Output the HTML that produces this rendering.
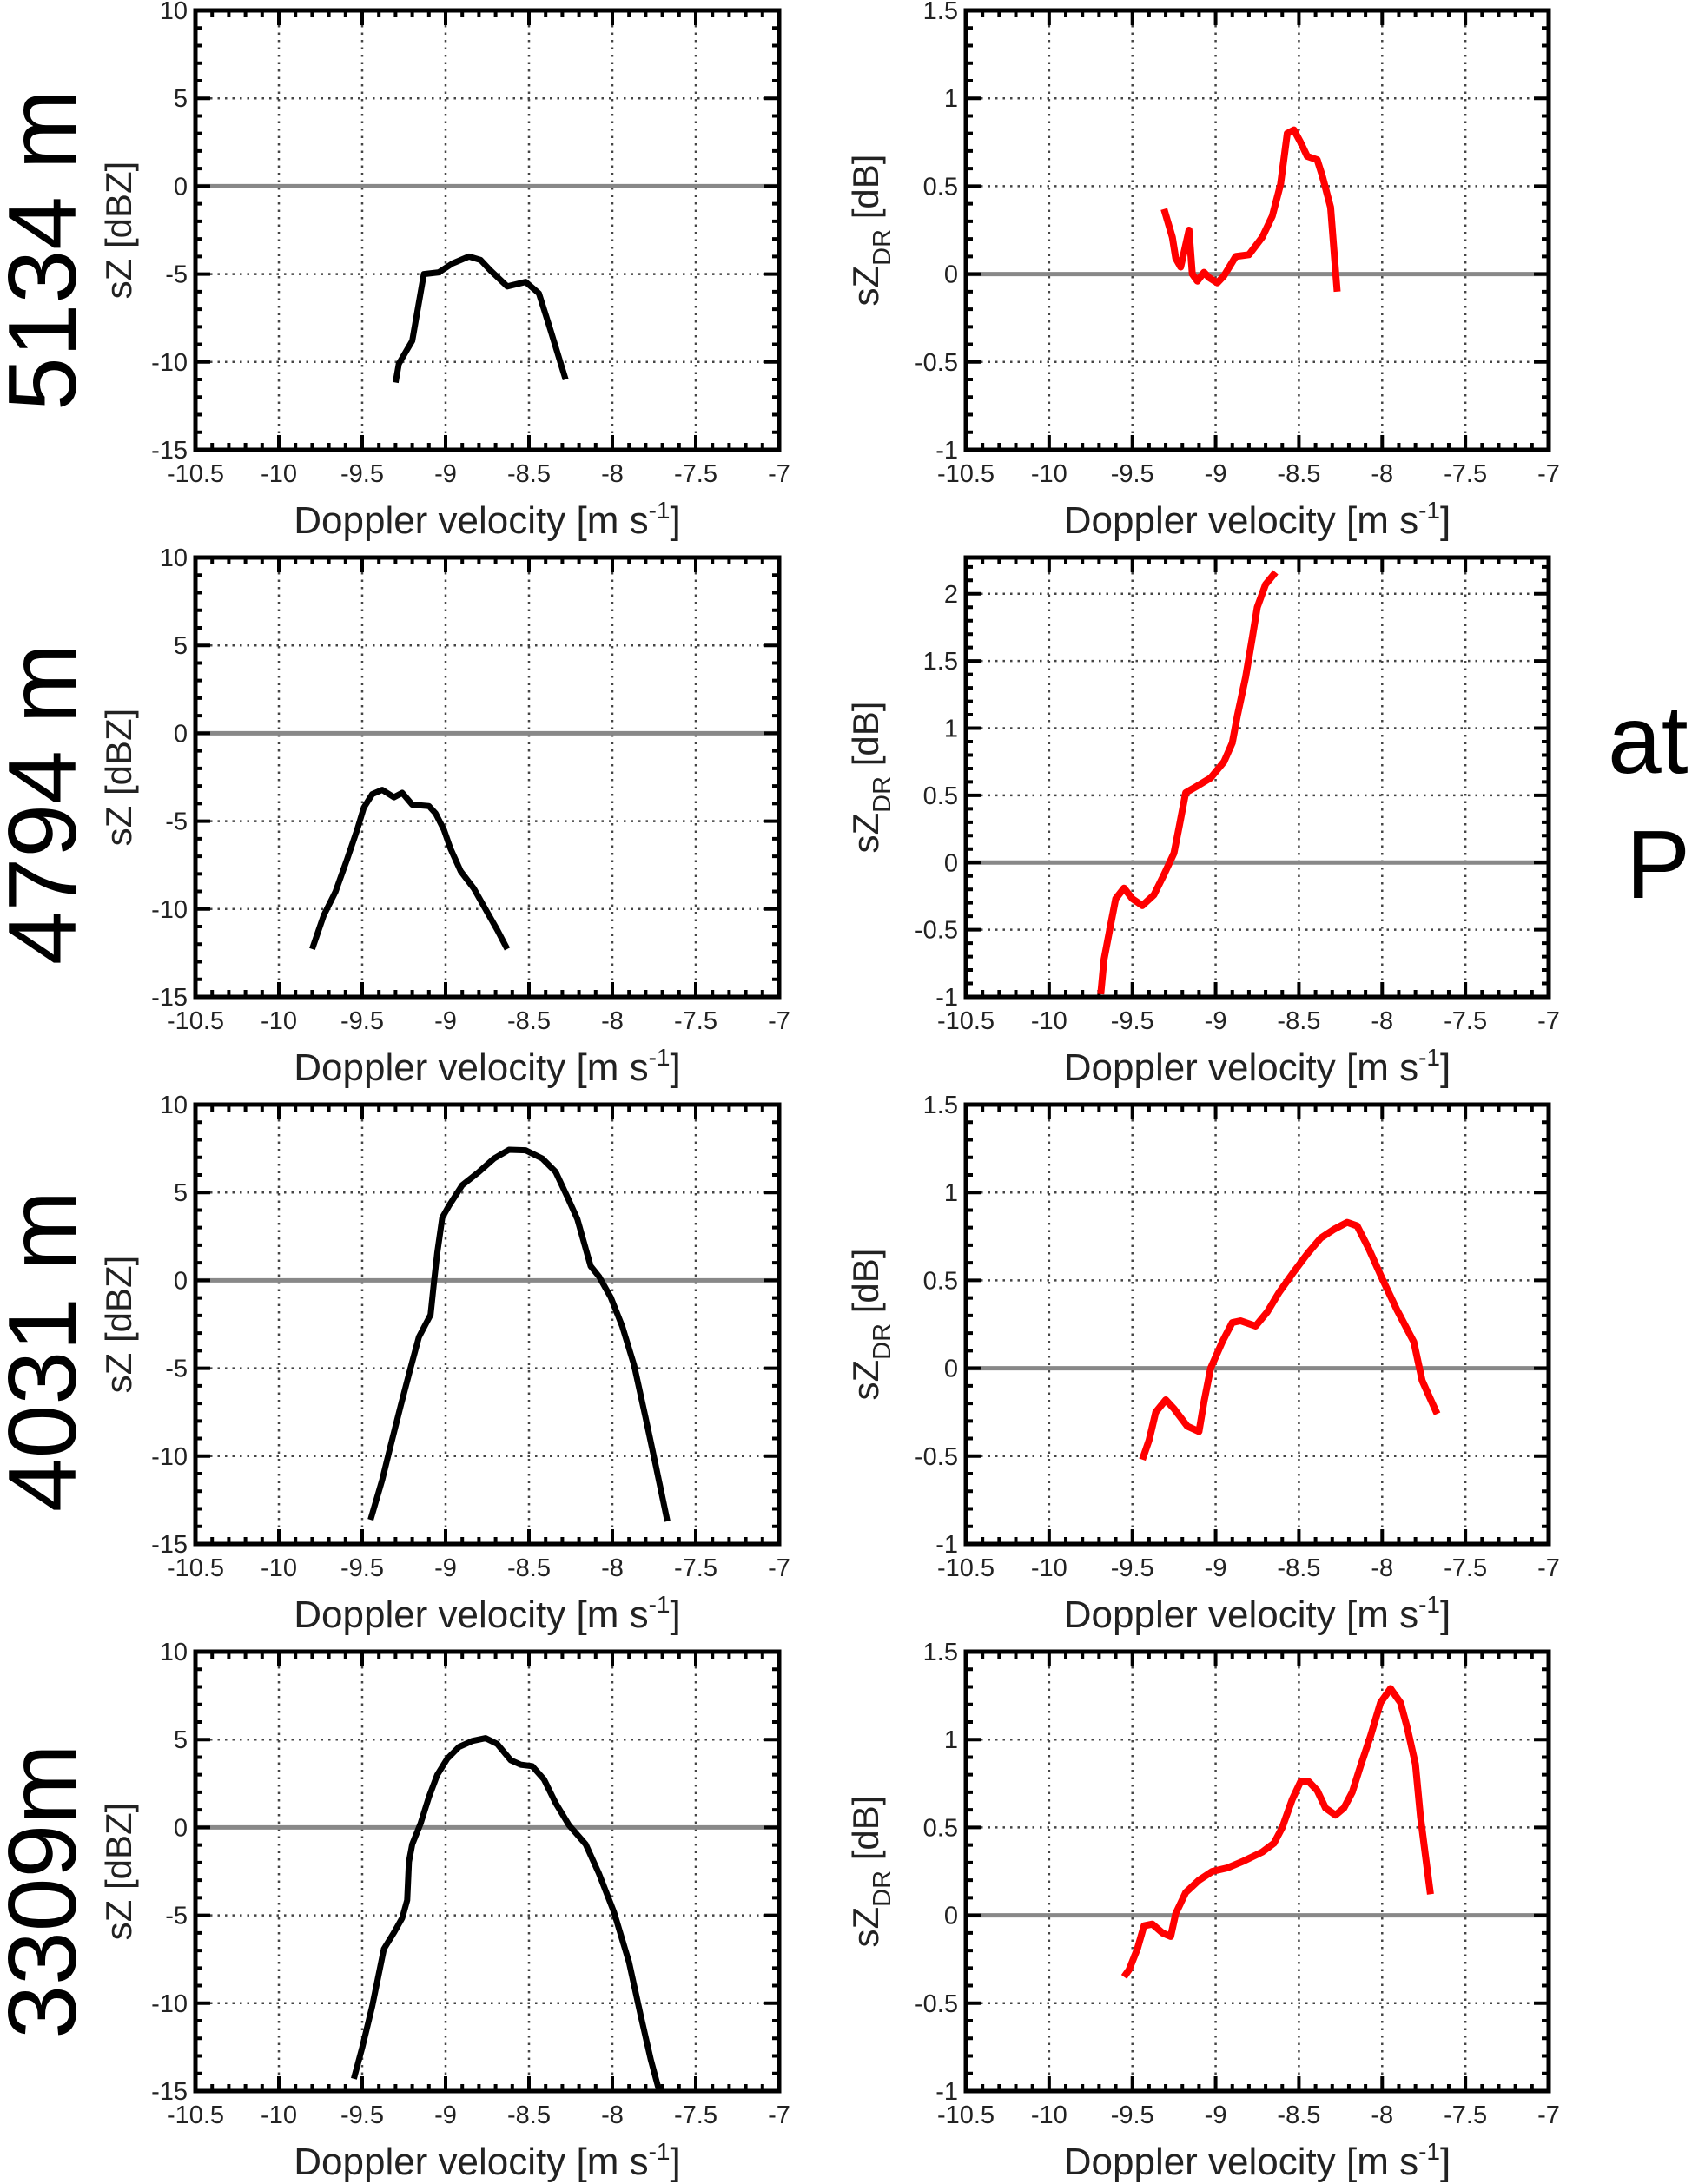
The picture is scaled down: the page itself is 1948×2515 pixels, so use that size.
<!DOCTYPE html>
<html><head><meta charset="utf-8"><style>
html,body{margin:0;padding:0;background:#fff;}
svg{display:block;}
text{font-family:"Liberation Sans",sans-serif;fill:#222;}
.row{font-family:"Liberation Sans",sans-serif;font-size:111px;fill:#000;}
</style></head><body>
<svg id="fig" width="1948" height="2515" viewBox="0 0 1948 2515" xmlns="http://www.w3.org/2000/svg">
<text class="row" transform="translate(87,288) rotate(-90)" text-anchor="middle">5134 m</text>
<text class="row" transform="translate(87,926) rotate(-90)" text-anchor="middle">4794 m</text>
<text class="row" transform="translate(87,1556) rotate(-90)" text-anchor="middle">4031 m</text>
<text class="row" transform="translate(87,2178) rotate(-90)" text-anchor="middle">3309m</text>
<text class="row" x="1851" y="890">at</text>
<text class="row" x="1872" y="1034">P</text>
</svg>
<script>
// x axis (shared)
const xTicks = [-10.5,-10,-9.5,-9,-8.5,-8,-7.5,-7];
const xTickLabels = ["-10.5","-10","-9.5","-9","-8.5","-8","-7.5","-7"];
// y ticks
const zTicks = [-15,-10,-5,0,5,10];
const zTickLabels = ["-15","-10","-5","0","5","10"];
const zdrTicks = [-1,-0.5,0,0.5,1,1.5];
const zdrTickLabels = ["-1","-0.5","0","0.5","1","1.5"];
const zdrTicks2 = [-1,-0.5,0,0.5,1,1.5,2];
const zdrTickLabels2 = ["-1","-0.5","0","0.5","1","1.5","2"];

// series: row 1 (5134 m)
const r1zX = [-9.30,-9.28,-9.20,-9.13,-9.04,-8.96,-8.86,-8.79,-8.73,-8.63,-8.52,-8.44,-8.38,-8.28];
const r1zY = [-11.17,-10.1,-8.8,-5.0,-4.9,-4.4,-4.0,-4.2,-4.8,-5.7,-5.45,-6.1,-7.9,-11.0];
const r1dX = [-9.31,-9.26,-9.24,-9.21,-9.16,-9.14,-9.11,-9.07,-9.04,-8.99,-8.95,-8.88,-8.80,-8.72,-8.66,-8.61,-8.57,-8.53,-8.49,-8.45,-8.39,-8.36,-8.31,-8.27];
const r1dY = [0.37,0.21,0.09,0.04,0.25,0.00,-0.04,0.01,-0.02,-0.05,-0.01,0.10,0.11,0.21,0.33,0.51,0.80,0.82,0.75,0.67,0.65,0.56,0.38,-0.10];
// row 2 (4794 m)
const r2zX = [-9.80,-9.73,-9.66,-9.59,-9.53,-9.49,-9.44,-9.38,-9.31,-9.26,-9.20,-9.10,-9.06,-9.01,-8.97,-8.91,-8.83,-8.76,-8.69,-8.63];
const r2zY = [-12.28,-10.35,-9.01,-7.16,-5.49,-4.23,-3.47,-3.22,-3.64,-3.39,-4.06,-4.14,-4.56,-5.49,-6.58,-7.84,-8.84,-10.02,-11.19,-12.28];
const r2dX = [-9.69,-9.67,-9.63,-9.60,-9.55,-9.50,-9.44,-9.37,-9.31,-9.25,-9.22,-9.18,-9.11,-9.03,-8.95,-8.90,-8.87,-8.82,-8.78,-8.75,-8.70,-8.64];
const r2dY = [-0.98,-0.72,-0.46,-0.27,-0.19,-0.27,-0.32,-0.24,-0.09,0.07,0.26,0.52,0.57,0.63,0.75,0.89,1.09,1.38,1.67,1.90,2.07,2.16];
// row 3 (4031 m)
const r3zX = [-9.45,-9.38,-9.33,-9.27,-9.21,-9.16,-9.09,-9.07,-9.05,-9.02,-8.98,-8.90,-8.80,-8.71,-8.62,-8.52,-8.42,-8.34,-8.27,-8.21,-8.13,-8.08,-8.01,-7.94,-7.87,-7.80,-7.74,-7.67];
const r3zY = [-13.62,-11.36,-9.43,-7.16,-4.98,-3.22,-1.96,-0.12,1.56,3.57,4.24,5.42,6.17,6.93,7.43,7.40,6.93,6.17,4.75,3.49,0.81,0.22,-0.96,-2.63,-4.82,-7.84,-10.52,-13.71];
const r3dX = [-9.44,-9.40,-9.36,-9.30,-9.25,-9.17,-9.10,-9.07,-9.03,-8.96,-8.90,-8.85,-8.76,-8.69,-8.62,-8.53,-8.45,-8.37,-8.29,-8.21,-8.15,-8.08,-8.00,-7.91,-7.81,-7.76,-7.67];
const r3dY = [-0.52,-0.41,-0.25,-0.18,-0.23,-0.33,-0.36,-0.19,0.00,0.15,0.26,0.27,0.24,0.32,0.43,0.55,0.65,0.74,0.79,0.83,0.81,0.68,0.51,0.33,0.15,-0.07,-0.26];
// row 4 (3309 m)
const r4zX = [-9.55,-9.50,-9.44,-9.37,-9.31,-9.26,-9.23,-9.22,-9.20,-9.15,-9.10,-9.05,-8.99,-8.92,-8.84,-8.76,-8.69,-8.61,-8.55,-8.48,-8.41,-8.34,-8.26,-8.16,-8.08,-7.99,-7.90,-7.83,-7.77,-7.72];
const r4zY = [-14.30,-12.53,-10.18,-6.91,-5.99,-5.15,-4.14,-1.96,-0.96,0.22,1.73,2.99,3.91,4.58,4.92,5.08,4.75,3.83,3.57,3.49,2.73,1.39,0.13,-0.96,-2.63,-4.82,-7.67,-10.69,-13.20,-14.97];
const r4dX = [-9.55,-9.52,-9.47,-9.43,-9.38,-9.32,-9.27,-9.24,-9.18,-9.10,-9.02,-8.93,-8.83,-8.72,-8.65,-8.60,-8.54,-8.49,-8.44,-8.39,-8.34,-8.28,-8.23,-8.18,-8.13,-8.07,-8.01,-7.95,-7.89,-7.85,-7.80,-7.77,-7.74,-7.71];
const r4dY = [-0.35,-0.31,-0.19,-0.06,-0.05,-0.10,-0.12,0.01,0.13,0.20,0.25,0.27,0.31,0.36,0.41,0.50,0.66,0.76,0.76,0.71,0.61,0.57,0.61,0.70,0.85,1.02,1.21,1.29,1.21,1.07,0.86,0.56,0.34,0.12];

const NS = "http://www.w3.org/2000/svg";
const svg = document.getElementById('fig');
function mk(tag, attrs, parent){
  const e = document.createElementNS(NS, tag);
  for (const k in attrs) e.setAttribute(k, attrs[k]);
  (parent||svg).appendChild(e);
  return e;
}
const rowTops = [12, 642, 1272, 1902];
const H = 506;
const panels = [
  {r:0,side:'L',xs:r1zX,ys:r1zY},{r:0,side:'R',xs:r1dX,ys:r1dY,t:zdrTicks,tl:zdrTickLabels,y0:-1,y1:1.5},
  {r:1,side:'L',xs:r2zX,ys:r2zY},{r:1,side:'R',xs:r2dX,ys:r2dY,t:zdrTicks2,tl:zdrTickLabels2,y0:-1,y1:2.27},
  {r:2,side:'L',xs:r3zX,ys:r3zY},{r:2,side:'R',xs:r3dX,ys:r3dY,t:zdrTicks,tl:zdrTickLabels,y0:-1,y1:1.5},
  {r:3,side:'L',xs:r4zX,ys:r4zY},{r:3,side:'R',xs:r4dX,ys:r4dY,t:zdrTicks,tl:zdrTickLabels,y0:-1,y1:1.5}
];
panels.forEach((p,i)=>{
  const L = p.side==='L';
  const left = L?225:1112, right = L?897:1783;
  const top = rowTops[p.r], bot = top+H;
  const y0 = L?-15:p.y0, y1 = L?10:p.y1;
  const yt = L?zTicks:p.t, ytl = L?zTickLabels:p.tl;
  const minorY = L?1:0.1;
  const sx = v => left + (v+10.5)/3.5*(right-left);
  const sy = v => bot - (v-y0)/(y1-y0)*(bot-top);
  const g = mk('g',{});
  
  
  xTicks.forEach(v=>{ if(v>-10.5&&v<-7){ const l=mk('line',{x1:sx(v),x2:sx(v),y1:top,y2:bot,stroke:'#444','stroke-width':2.5,'stroke-dasharray':'2.5,6'},g);
      }});
  yt.forEach(v=>{ if(v>y0&&v<y1&&v!==0){ const l=mk('line',{x1:left,x2:right,y1:sy(v),y2:sy(v),stroke:'#444','stroke-width':2.5,'stroke-dasharray':'2.5,6'},g);
      }});
  const z = mk('line',{x1:left,x2:right,y1:sy(0),y2:sy(0),stroke:'#888','stroke-width':5},g);
   
  let d='';
  for(let k=0;k<=35;k++){ const v=-10.5+k*0.1; const x=sx(v); const major=(k%5===0); const len=major?17:8;
    d+=`M${x},${bot}v${-len}M${x},${top}v${len}`; }
  const nY = Math.round((y1-y0)/minorY);
  for(let k=0;k<=nY;k++){ const v=y0+k*minorY; if(v>y1+1e-9) break; const y=sy(v);
    const major = yt.some(t=>Math.abs(t-v)<1e-6); const len=major?17:8;
    d+=`M${left},${y}h${len}M${right},${y}h${-len}`; }
  const tk = mk('path',{d:d,stroke:'#000','stroke-width':4,fill:'none'},g);
   
  const bx = mk('rect',{x:left,y:top,width:right-left,height:H,fill:'none',stroke:'#000','stroke-width':5},g);
   
  const pts = p.xs.map((v,j)=>sx(v).toFixed(1)+','+sy(p.ys[j]).toFixed(1)).join(' ');
  const c = mk('polyline',{points:pts,fill:'none',stroke:L?'#000':'#f00','stroke-width':L?7:8,'stroke-linejoin':'round'},g);
  
  
  xTicks.forEach((v,j)=>{ const t=mk('text',{x:sx(v),y:bot+37,'text-anchor':'middle','font-size':29},g); t.textContent=xTickLabels[j];
      });
  yt.forEach((v,j)=>{ const t=mk('text',{x:left-9,y:sy(v)+10,'text-anchor':'end','font-size':29},g); t.textContent=ytl[j];
      });
  const cx = (left+right)/2;
  const xl = mk('text',{x:cx,y:bot+96,'text-anchor':'middle','font-size':44},g);
  xl.innerHTML = 'Doppler velocity [m s<tspan dy="-17" font-size="28">-1</tspan><tspan dy="17">]</tspan>';
   
  const cy = (top+bot)/2;
  const yl = mk('text',{'text-anchor':'middle','font-size':42,transform:`translate(${L?151:1011},${cy}) rotate(-90)`},g);
  if(L){ yl.textContent='sZ [dBZ]'; }
  else { yl.innerHTML='sZ<tspan dy="14" font-size="29">DR</tspan><tspan dy="-14"> [dB]</tspan>'; }
   
});
</script>
</body></html>
